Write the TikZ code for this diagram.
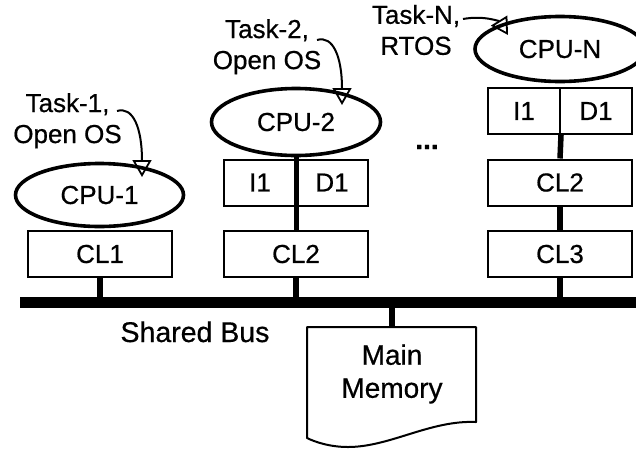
\documentclass[tikz,border=0pt]{standalone}
\usepackage{fontspec}
\setmainfont{Liberation Sans}[FakeBold=0.6]
\usetikzlibrary{shapes.geometric,arrows.meta}
\begin{document}
\begin{tikzpicture}[x=1pt,y=-1pt,
  txt/.style={inner sep=0pt, font=\fontsize{26}{31}\selectfont},
  note/.style={txt, align=center},
  cpu/.style={ellipse, draw, line width=3.6pt, inner sep=0pt, font=\fontsize{26}{31}\selectfont},
  box/.style={rectangle, draw, line width=2pt, minimum width=144pt, minimum height=46pt, inner sep=0pt, font=\fontsize{26}{31}\selectfont},
  half/.style={box, minimum width=72pt},
  conn/.style={line width=5.5pt},
  tip/.style={-{Triangle[open,length=17pt,width=19pt,line width=1.8pt]}, line width=2pt},
  busline/.style={line width=11pt}
]
\useasboundingbox (0,0) rectangle (636,448);
\clip (0,0) rectangle (636,448);

% bus
\coordinate (busL) at (20,302.5);
\coordinate (busR) at (645,302.5);
\draw[busline] (busL) -- (busR);

% column 1
\node[box] (cl1) at (100,254) {CL1};
\node[cpu, minimum width=168pt, minimum height=63pt] (cpu1) at (99.5,195) {CPU-1};

% column 2
\node[box] (cl2a) at (296,254) {CL2};
\node[half] (i1b) at (260,182.5) {I1};
\node[half] (d1b) at (332,182.5) {D1};
\node[cpu, minimum width=169pt, minimum height=67pt] (cpu2) at (296,122) {CPU-2};

% column N
\node[box] (cl3) at (560,254) {CL3};
\node[box] (cl2c) at (560,182.5) {CL2};
\node[half] (i1c) at (524,111) {I1};
\node[half] (d1c) at (596,111) {D1};
\node[cpu, minimum width=170pt, minimum height=65pt] (cpuN) at (560,49) {CPU-N};

% connectors
\draw[conn] (cl1.south) -- (cl1.south |- busL);
\draw[conn] (cl2a.south) -- (cl2a.south |- busL);
\draw[line width=5pt] (cpu2.south) -- (cl2a.north);
\draw[conn] (i1c.south east) -- (cl2c.north);
\draw[conn] (cl2c.south) -- (cl3.north);
\draw[conn] (cl3.south) -- (cl3.south |- busL);

% dots
\node[txt, font=\fontsize{28}{31}\selectfont\bfseries] (dots) at (427,147) {...};

% shared bus label
\node[txt, font=\fontsize{28.5}{33}\selectfont, anchor=base] (bus) at (195,342) {Shared Bus};

% main memory
\coordinate (memtop) at (392,327);
\draw[line width=2pt, line join=round] (307,327) -- (476,327) -- (476,422)
  .. controls (430,420) and (390,447) .. (348,447)
  .. controls (330,447) and (315,442) .. (307,438) -- cycle;
\draw[conn] (memtop) -- (memtop |- busL);
\node[txt, font=\fontsize{28}{33}\selectfont, align=center] (mem) at (392,374) {Main\\Memory};

% task labels
\node[note] (t1) at (67.5,120.8) {Task-1,\\Open OS};
\node[note] (t2) at (267,46.8) {Task-2,\\Open OS};
\node[note] (tN) at (416,30) {Task-N,\\RTOS};

\coordinate (a1s) at (117,111);
\coordinate (a1e) at (142,177);
\coordinate (a2s) at (317,40);
\coordinate (a2e) at (342,105);
\coordinate (aNs) at (463,19);
\coordinate (aNe) at (508,35);
\draw[tip] (a1s) .. controls (133,106) and (142,128) .. (a1e);
\draw[tip] (a2s) .. controls (333,35) and (342,57) .. (a2e);
\draw[tip] (aNs) .. controls (485,15) and (500,22) .. (aNe);
\end{tikzpicture}
\end{document}
